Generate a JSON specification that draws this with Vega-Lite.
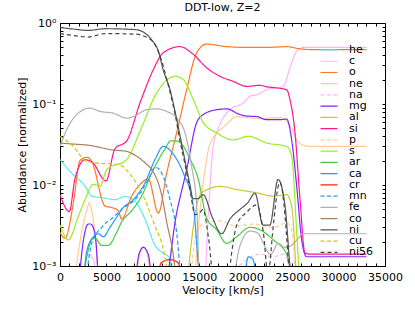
{
"$schema":"https://vega.github.io/schema/vega-lite/v6.json",
"width":325,"height":243,
"autosize":{"type":"none"},
"padding":{"left":60,"top":23,"right":30,"bottom":46},
"config":{"font":"DejaVu Sans","view":{"stroke":"black","strokeWidth":1},
"axis":{"grid":false,"domain":false,"tickColor":"black","labelColor":"black","titleColor":"black","labelFontSize":11,"titleFontSize":11,"titleFontWeight":"normal","labelFont":"DejaVu Sans","titleFont":"DejaVu Sans","labelFlush":false}},
"title":{"text":"DDT-low, Z=2","fontSize":11,"fontWeight":"normal","font":"DejaVu Sans","offset":4,"color":"black"},
"data":{"values":[
{"el":"he","v":0,"a":0.0206},{"el":"he","v":1260,"a":0.014},{"el":"he","v":2690,"a":0.0097},{"el":"he","v":3410,"a":0.0073},{"el":"he","v":4490,"a":0.007},{"el":"he","v":5920,"a":0.0066},{"el":"he","v":7000,"a":0.0072},{"el":"he","v":8080,"a":0.0063},{"el":"he","v":9150,"a":0.0038},{"el":"he","v":10230,"a":0.0018},{"el":"he","v":11310,"a":0.0014},{"el":"he","v":11700,"a":0.0013},{"el":"he","v":12300,"a":0.0005},
{"el":"c","v":2400,"a":0.0005},{"el":"c","v":3000,"a":0.0014},{"el":"c","v":3600,"a":0.0012},{"el":"c","v":4100,"a":0.0005},{"el":"c","v":15500,"a":0.0005},{"el":"c","v":16000,"a":0.005},{"el":"c","v":16500,"a":0.03},{"el":"c","v":17230,"a":0.056},{"el":"c","v":18310,"a":0.085},{"el":"c","v":19740,"a":0.103},{"el":"c","v":20500,"a":0.125},{"el":"c","v":21180,"a":0.13},{"el":"c","v":22260,"a":0.15},{"el":"c","v":24050,"a":0.165},{"el":"c","v":24770,"a":0.28},{"el":"c","v":25490,"a":0.45},{"el":"c","v":26200,"a":0.5},{"el":"c","v":33000,"a":0.5},
{"el":"o","v":0,"a":0.0026},{"el":"o","v":540,"a":0.0022},{"el":"o","v":1440,"a":0.006},{"el":"o","v":2150,"a":0.02},{"el":"o","v":2870,"a":0.022},{"el":"o","v":3410,"a":0.0197},{"el":"o","v":4850,"a":0.0055},{"el":"o","v":5740,"a":0.0052},{"el":"o","v":6280,"a":0.0048},{"el":"o","v":6640,"a":0.0038},{"el":"o","v":7720,"a":0.0073},{"el":"o","v":8790,"a":0.0106},{"el":"o","v":9500,"a":0.012},{"el":"o","v":10590,"a":0.0045},{"el":"o","v":11490,"a":0.014},{"el":"o","v":12560,"a":0.044},{"el":"o","v":13640,"a":0.15},{"el":"o","v":14720,"a":0.43},{"el":"o","v":15790,"a":0.55},{"el":"o","v":17950,"a":0.51},{"el":"o","v":20100,"a":0.5},{"el":"o","v":22260,"a":0.5},{"el":"o","v":24410,"a":0.51},{"el":"o","v":25850,"a":0.48},{"el":"o","v":27000,"a":0.47},{"el":"o","v":33000,"a":0.47},
{"el":"ne","v":1440,"a":0.0005},{"el":"ne","v":2150,"a":0.002},{"el":"ne","v":2870,"a":0.0048},{"el":"ne","v":3150,"a":0.006},{"el":"ne","v":3410,"a":0.0048},{"el":"ne","v":3950,"a":0.0015},{"el":"ne","v":4200,"a":0.0005},{"el":"ne","v":7900,"a":0.0005},{"el":"ne","v":8600,"a":0.0014},{"el":"ne","v":9000,"a":0.0017},{"el":"ne","v":9400,"a":0.0014},{"el":"ne","v":10000,"a":0.0005},{"el":"ne","v":14300,"a":0.0005},{"el":"ne","v":15000,"a":0.004},{"el":"ne","v":15600,"a":0.015},{"el":"ne","v":16150,"a":0.032},{"el":"ne","v":17950,"a":0.056},{"el":"ne","v":19030,"a":0.07},{"el":"ne","v":20100,"a":0.068},{"el":"ne","v":21540,"a":0.066},{"el":"ne","v":23700,"a":0.068},{"el":"ne","v":24410,"a":0.061},{"el":"ne","v":24950,"a":0.05},{"el":"ne","v":25490,"a":0.036},{"el":"ne","v":26200,"a":0.031},{"el":"ne","v":27000,"a":0.03},{"el":"ne","v":33000,"a":0.03},
{"el":"na","v":18500,"a":0.0005},{"el":"na","v":19000,"a":0.0009},{"el":"na","v":19740,"a":0.0011},{"el":"na","v":21540,"a":0.0014},{"el":"na","v":22980,"a":0.0013},{"el":"na","v":24050,"a":0.0014},{"el":"na","v":24600,"a":0.0011},{"el":"na","v":25000,"a":0.0005},
{"el":"mg","v":1970,"a":0.0005},{"el":"mg","v":2500,"a":0.002},{"el":"mg","v":3050,"a":0.0033},{"el":"mg","v":3300,"a":0.0033},{"el":"mg","v":3770,"a":0.0025},{"el":"mg","v":4310,"a":0.0005},{"el":"mg","v":7900,"a":0.0005},{"el":"mg","v":8500,"a":0.0014},{"el":"mg","v":8970,"a":0.0017},{"el":"mg","v":9500,"a":0.0014},{"el":"mg","v":10100,"a":0.0005},{"el":"mg","v":11130,"a":0.0005},{"el":"mg","v":12560,"a":0.0045},{"el":"mg","v":13640,"a":0.0155},{"el":"mg","v":14720,"a":0.059},{"el":"mg","v":15430,"a":0.074},{"el":"mg","v":16870,"a":0.085},{"el":"mg","v":17950,"a":0.087},{"el":"mg","v":19390,"a":0.074},{"el":"mg","v":20100,"a":0.071},{"el":"mg","v":21180,"a":0.07},{"el":"mg","v":22260,"a":0.064},{"el":"mg","v":23700,"a":0.064},{"el":"mg","v":24410,"a":0.065},{"el":"mg","v":24950,"a":0.036},{"el":"mg","v":25490,"a":0.0097},{"el":"mg","v":26030,"a":0.0021},{"el":"mg","v":26560,"a":0.0013},{"el":"mg","v":33000,"a":0.0013},
{"el":"al","v":13640,"a":0.0005},{"el":"al","v":14180,"a":0.0021},{"el":"al","v":14720,"a":0.0055},{"el":"al","v":15250,"a":0.008},{"el":"al","v":17230,"a":0.0096},{"el":"al","v":19030,"a":0.0088},{"el":"al","v":21180,"a":0.008},{"el":"al","v":22980,"a":0.0073},{"el":"al","v":24410,"a":0.0076},{"el":"al","v":24950,"a":0.0055},{"el":"al","v":25200,"a":0.0025},{"el":"al","v":25500,"a":0.0005},
{"el":"si","v":0,"a":0.0076},{"el":"si","v":1000,"a":0.0047},{"el":"si","v":1620,"a":0.012},{"el":"si","v":2690,"a":0.0205},{"el":"si","v":3500,"a":0.019},{"el":"si","v":4950,"a":0.0112},{"el":"si","v":5920,"a":0.028},{"el":"si","v":7180,"a":0.035},{"el":"si","v":8615,"a":0.103},{"el":"si","v":10050,"a":0.265},{"el":"si","v":11125,"a":0.43},{"el":"si","v":12920,"a":0.51},{"el":"si","v":14360,"a":0.41},{"el":"si","v":15790,"a":0.28},{"el":"si","v":17230,"a":0.22},{"el":"si","v":18660,"a":0.19},{"el":"si","v":20100,"a":0.165},{"el":"si","v":21540,"a":0.17},{"el":"si","v":22260,"a":0.163},{"el":"si","v":23330,"a":0.158},{"el":"si","v":24410,"a":0.15},{"el":"si","v":24770,"a":0.113},{"el":"si","v":25310,"a":0.044},{"el":"si","v":25850,"a":0.0066},{"el":"si","v":26380,"a":0.00145},{"el":"si","v":26920,"a":0.0014},{"el":"si","v":33000,"a":0.0014},
{"el":"p","v":14000,"a":0.0005},{"el":"p","v":14540,"a":0.0022},{"el":"p","v":15080,"a":0.0031},{"el":"p","v":15790,"a":0.0034},{"el":"p","v":17230,"a":0.0036},{"el":"p","v":19030,"a":0.0031},{"el":"p","v":20820,"a":0.0033},{"el":"p","v":22980,"a":0.003},{"el":"p","v":24410,"a":0.0034},{"el":"p","v":24950,"a":0.0028},{"el":"p","v":25400,"a":0.0005},
{"el":"s","v":0,"a":0.0032},{"el":"s","v":900,"a":0.0021},{"el":"s","v":1260,"a":0.0024},{"el":"s","v":1800,"a":0.0036},{"el":"s","v":2690,"a":0.0066},{"el":"s","v":3590,"a":0.0102},{"el":"s","v":4310,"a":0.0097},{"el":"s","v":5030,"a":0.0155},{"el":"s","v":7180,"a":0.0206},{"el":"s","v":8615,"a":0.046},{"el":"s","v":10410,"a":0.137},{"el":"s","v":11850,"a":0.21},{"el":"s","v":12400,"a":0.22},{"el":"s","v":13280,"a":0.2},{"el":"s","v":14360,"a":0.113},{"el":"s","v":15430,"a":0.059},{"el":"s","v":16870,"a":0.044},{"el":"s","v":18660,"a":0.036},{"el":"s","v":20280,"a":0.04},{"el":"s","v":22260,"a":0.033},{"el":"s","v":24410,"a":0.03},{"el":"s","v":24950,"a":0.0227},{"el":"s","v":25490,"a":0.0026},{"el":"s","v":25850,"a":0.0005},
{"el":"ar","v":2300,"a":0.0005},{"el":"ar","v":3000,"a":0.0015},{"el":"ar","v":3410,"a":0.0021},{"el":"ar","v":3770,"a":0.0022},{"el":"ar","v":4490,"a":0.0018},{"el":"ar","v":5200,"a":0.0018},{"el":"ar","v":6100,"a":0.0026},{"el":"ar","v":6640,"a":0.0035},{"el":"ar","v":7720,"a":0.0048},{"el":"ar","v":8790,"a":0.0073},{"el":"ar","v":9870,"a":0.014},{"el":"ar","v":11310,"a":0.028},{"el":"ar","v":11900,"a":0.035},{"el":"ar","v":12560,"a":0.035},{"el":"ar","v":13300,"a":0.03},{"el":"ar","v":14000,"a":0.021},{"el":"ar","v":14900,"a":0.0117},{"el":"ar","v":15790,"a":0.0039},{"el":"ar","v":16870,"a":0.0028},{"el":"ar","v":17950,"a":0.0019},{"el":"ar","v":19030,"a":0.0023},{"el":"ar","v":20460,"a":0.003},{"el":"ar","v":21540,"a":0.0028},{"el":"ar","v":22980,"a":0.0021},{"el":"ar","v":24410,"a":0.0014},{"el":"ar","v":25130,"a":0.0005},
{"el":"ca","v":2500,"a":0.0005},{"el":"ca","v":2870,"a":0.0015},{"el":"ca","v":3600,"a":0.0023},{"el":"ca","v":4130,"a":0.0025},{"el":"ca","v":4670,"a":0.0023},{"el":"ca","v":5380,"a":0.003},{"el":"ca","v":6100,"a":0.004},{"el":"ca","v":6640,"a":0.005},{"el":"ca","v":7900,"a":0.0066},{"el":"ca","v":9150,"a":0.0106},{"el":"ca","v":10230,"a":0.0206},{"el":"ca","v":11130,"a":0.03},{"el":"ca","v":12200,"a":0.024},{"el":"ca","v":13280,"a":0.014},{"el":"ca","v":14360,"a":0.0055},{"el":"ca","v":15250,"a":0.0005},{"el":"ca","v":19600,"a":0.0005},{"el":"ca","v":20280,"a":0.0013},{"el":"ca","v":20800,"a":0.0012},{"el":"ca","v":21200,"a":0.0005},
{"el":"cr","v":10400,"a":0.0005},{"el":"cr","v":10900,"a":0.0011},{"el":"cr","v":11850,"a":0.0012},{"el":"cr","v":12700,"a":0.0011},{"el":"cr","v":13300,"a":0.0005},
{"el":"mn","v":2690,"a":0.0005},{"el":"mn","v":3410,"a":0.0019},{"el":"mn","v":4490,"a":0.003},{"el":"mn","v":5740,"a":0.004},{"el":"mn","v":6820,"a":0.0052},{"el":"mn","v":8080,"a":0.0066},{"el":"mn","v":9510,"a":0.0117},{"el":"mn","v":10230,"a":0.0165},{"el":"mn","v":10590,"a":0.016},{"el":"mn","v":10950,"a":0.014},{"el":"mn","v":11850,"a":0.0066},{"el":"mn","v":12560,"a":0.0026},{"el":"mn","v":13100,"a":0.0005},
{"el":"fe","v":0,"a":0.03},{"el":"fe","v":900,"a":0.053},{"el":"fe","v":1800,"a":0.074},{"el":"fe","v":3230,"a":0.089},{"el":"fe","v":4310,"a":0.081},{"el":"fe","v":5740,"a":0.077},{"el":"fe","v":7180,"a":0.067},{"el":"fe","v":7900,"a":0.07},{"el":"fe","v":9330,"a":0.085},{"el":"fe","v":10410,"a":0.087},{"el":"fe","v":11490,"a":0.081},{"el":"fe","v":12560,"a":0.067},{"el":"fe","v":13460,"a":0.044},{"el":"fe","v":14180,"a":0.017},{"el":"fe","v":14720,"a":0.0055},{"el":"fe","v":15080,"a":0.0005},{"el":"fe","v":18310,"a":0.0005},{"el":"fe","v":19390,"a":0.0018},{"el":"fe","v":20460,"a":0.0027},{"el":"fe","v":21180,"a":0.0026},{"el":"fe","v":22700,"a":0.0014},{"el":"fe","v":23500,"a":0.0019},{"el":"fe","v":24200,"a":0.0017},{"el":"fe","v":24950,"a":0.0018},{"el":"fe","v":25670,"a":0.0022},{"el":"fe","v":26200,"a":0.0025},{"el":"fe","v":33000,"a":0.0025},
{"el":"co","v":0,"a":0.033},{"el":"co","v":1440,"a":0.032},{"el":"co","v":3050,"a":0.031},{"el":"co","v":5740,"a":0.027},{"el":"co","v":7180,"a":0.026},{"el":"co","v":8250,"a":0.0227},{"el":"co","v":9330,"a":0.018},{"el":"co","v":9870,"a":0.0155},{"el":"co","v":10950,"a":0.0075},{"el":"co","v":11490,"a":0.0035},{"el":"co","v":12300,"a":0.0011},{"el":"co","v":12600,"a":0.0005},
{"el":"ni","v":0,"a":0.88},{"el":"ni","v":1500,"a":0.84},{"el":"ni","v":3050,"a":0.81},{"el":"ni","v":4850,"a":0.85},{"el":"ni","v":8080,"a":0.83},{"el":"ni","v":9150,"a":0.75},{"el":"ni","v":9870,"a":0.62},{"el":"ni","v":10590,"a":0.45},{"el":"ni","v":11130,"a":0.26},{"el":"ni","v":11850,"a":0.15},{"el":"ni","v":12400,"a":0.08},{"el":"ni","v":12900,"a":0.042},{"el":"ni","v":13460,"a":0.02},{"el":"ni","v":14000,"a":0.01},{"el":"ni","v":14320,"a":0.0068},{"el":"ni","v":14860,"a":0.0068},{"el":"ni","v":15430,"a":0.0076},{"el":"ni","v":16400,"a":0.004},{"el":"ni","v":17410,"a":0.0025},{"el":"ni","v":18310,"a":0.0038},{"el":"ni","v":19390,"a":0.005},{"el":"ni","v":20200,"a":0.006},{"el":"ni","v":21000,"a":0.0079},{"el":"ni","v":21860,"a":0.0032},{"el":"ni","v":22600,"a":0.0032},{"el":"ni","v":23480,"a":0.0117},{"el":"ni","v":24230,"a":0.0056},{"el":"ni","v":24770,"a":0.001},{"el":"ni","v":25100,"a":0.0005},
{"el":"cu","v":0,"a":0.04},{"el":"cu","v":1440,"a":0.03},{"el":"cu","v":2870,"a":0.0195},{"el":"cu","v":4490,"a":0.0185},{"el":"cu","v":6280,"a":0.018},{"el":"cu","v":7720,"a":0.0128},{"el":"cu","v":9150,"a":0.0066},{"el":"cu","v":10230,"a":0.0031},{"el":"cu","v":11130,"a":0.0016},{"el":"cu","v":11400,"a":0.0011},{"el":"cu","v":11800,"a":0.0005},
{"el":"ni56","v":0,"a":0.74},{"el":"ni56","v":1500,"a":0.7},{"el":"ni56","v":3050,"a":0.67},{"el":"ni56","v":4850,"a":0.74},{"el":"ni56","v":8000,"a":0.73},{"el":"ni56","v":9510,"a":0.65},{"el":"ni56","v":10230,"a":0.54},{"el":"ni56","v":10950,"a":0.34},{"el":"ni56","v":11500,"a":0.2},{"el":"ni56","v":11850,"a":0.14},{"el":"ni56","v":12400,"a":0.074},{"el":"ni56","v":12900,"a":0.036},{"el":"ni56","v":13460,"a":0.018},{"el":"ni56","v":14000,"a":0.0088},{"el":"ni56","v":14540,"a":0.0043},{"el":"ni56","v":15000,"a":0.0045},{"el":"ni56","v":15400,"a":0.005},{"el":"ni56","v":16000,"a":0.0022},{"el":"ni56","v":16700,"a":0.0005},{"el":"ni56","v":17950,"a":0.0005},{"el":"ni56","v":18500,"a":0.0015},{"el":"ni56","v":19030,"a":0.0032},{"el":"ni56","v":20100,"a":0.0046},{"el":"ni56","v":21180,"a":0.0057},{"el":"ni56","v":21900,"a":0.0026},{"el":"ni56","v":22400,"a":0.0008},{"el":"ni56","v":23000,"a":0.0034},{"el":"ni56","v":23500,"a":0.0097},{"el":"ni56","v":23700,"a":0.0107},{"el":"ni56","v":24230,"a":0.0042},{"el":"ni56","v":24770,"a":0.0005}
]},
"layer":[
{"mark":{"type":"line","clip":true,"interpolate":"monotone"},
"encoding":{
"x":{"field":"v","type":"quantitative","scale":{"domain":[0,35000],"nice":false,"zero":false},
"axis":{"title":"Velocity [km/s]","values":[0,1000,2000,3000,4000,5000,6000,7000,8000,9000,10000,11000,12000,13000,14000,15000,16000,17000,18000,19000,20000,21000,22000,23000,24000,25000,26000,27000,28000,29000,30000,31000,32000,33000,34000,35000],"format":"d","labelExpr":"datum.value % 5000 == 0 ? datum.label : ''","tickSize":-3,"labelPadding":8,"titlePadding":2,"labelOverlap":false,"labelFlush":false}},
"y":{"field":"a","type":"quantitative","scale":{"type":"log","domain":[0.001,1],"nice":false},
"axis":{"title":"Abundance [normalized]","values":[0.001,0.002,0.003,0.004,0.005,0.006,0.007,0.008,0.009,0.01,0.02,0.03,0.04,0.05,0.06,0.07,0.08,0.09,0.1,0.2,0.3,0.4,0.5,0.6,0.7,0.8,0.9,1],"labelExpr":"datum.value == 1 ? '10⁰' : datum.value == 0.1 ? '10⁻¹' : datum.value == 0.01 ? '10⁻²' : datum.value == 0.001 ? '10⁻³' : ''","tickSize":-3,"labelPadding":7,"titlePadding":4,"labelOverlap":false,"labelFlush":false}},
"color":{"field":"el","type":"nominal","scale":{"domain":["he","c","o","ne","na","mg","al","si","p","s","ar","ca","cr","mn","fe","co","ni","cu","ni56"],"range":["#55eeee","#ffb3ff","#ff7722","#ffcc99","#ffb3ff","#7f22ff","#c8c832","#ff1493","#ffcc99","#99ee22","#44cc44","#2299ff","#ff2211","#2299ff","#b0b0b0","#aa8060","#555555","#cccc00","#444444"]},
"legend":{"title":null,"orient":"none","legendX":263,"legendY":21,"symbolType":"M-1.7,0H1.7","symbolSize":100,"labelFontSize":11,"labelFont":"DejaVu Sans","labelOffset":14,"rowPadding":0.24,"symbolStrokeWidth":1.5,"labelColor":"black"}},
"strokeDash":{"field":"el","type":"nominal","scale":{"domain":["he","c","o","ne","na","mg","al","si","p","s","ar","ca","cr","mn","fe","co","ni","cu","ni56"],"range":[[1,0],[1,0],[1,0],[1,0],[4,2.5],[1,0],[1,0],[1,0],[4,2.5],[1,0],[1,0],[1,0],[1,0],[4,2.5],[1,0],[1,0],[1,0],[4,2.5],[4,3]]}},
"strokeWidth":{"field":"el","type":"nominal","scale":{"domain":["he","c","o","ne","na","mg","al","si","p","s","ar","ca","cr","mn","fe","co","ni","cu","ni56"],"range":[1.2,1.2,1.2,1.2,1.2,1.2,1.2,1.2,1.2,1.2,1.2,1.2,1.2,1.2,1.2,1.2,1.2,1.2,2.5]}}
}},
{"mark":{"type":"point","opacity":0},
"encoding":{
"x":{"field":"v","type":"quantitative","axis":{"orient":"top","title":null,"labels":false,"values":[0,1000,2000,3000,4000,5000,6000,7000,8000,9000,10000,11000,12000,13000,14000,15000,16000,17000,18000,19000,20000,21000,22000,23000,24000,25000,26000,27000,28000,29000,30000,31000,32000,33000,34000,35000],"tickSize":-3}},
"y":{"field":"a","type":"quantitative","scale":{"type":"log"},"axis":{"orient":"right","title":null,"labels":false,"values":[0.001,0.002,0.003,0.004,0.005,0.006,0.007,0.008,0.009,0.01,0.02,0.03,0.04,0.05,0.06,0.07,0.08,0.09,0.1,0.2,0.3,0.4,0.5,0.6,0.7,0.8,0.9,1],"tickSize":-3}}
}}
],
"resolve":{"axis":{"x":"independent","y":"independent"}}
}
